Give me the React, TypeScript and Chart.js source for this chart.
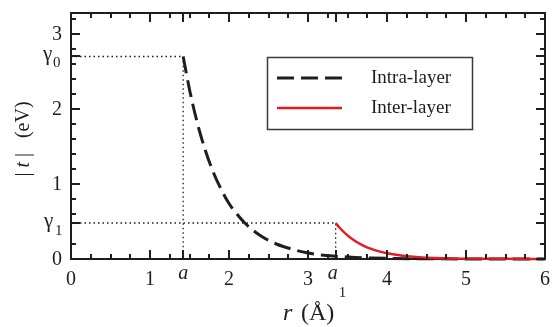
import { useEffect, useRef } from "react";
import { Chart, registerables } from "chart.js";

Chart.register(...registerables);

// Hopping magnitude |t| (eV) against separation r (Å)
const intraR = [1.42, 1.5, 1.6, 1.7, 1.8, 1.9, 2.0, 2.1, 2.2, 2.4, 2.6, 2.8, 3.0, 3.2, 3.4, 3.6, 3.8, 4.0, 4.5, 5.0, 5.5, 6.0];
const intraT = [2.7, 2.26, 1.81, 1.45, 1.16, 0.93, 0.74, 0.6, 0.48, 0.31, 0.2, 0.13, 0.08, 0.05, 0.033, 0.021, 0.014, 0.009, 0.003, 0.001, 0.0, 0.0];
const interR = [3.35, 3.4, 3.5, 3.6, 3.7, 3.8, 3.9, 4.0, 4.2, 4.4, 4.6, 4.8, 5.0, 5.5, 6.0];
const interT = [0.48, 0.417, 0.315, 0.237, 0.179, 0.135, 0.102, 0.077, 0.044, 0.025, 0.014, 0.008, 0.005, 0.002, 0.001];

// Reference distances and hopping values
const A = 1.42;
const A1 = 3.35;
const GAMMA0 = 2.7;
const GAMMA1 = 0.48;

const xMajor = [0, 1, 2, 3, 4, 5, 6];
const xMinor = [0.25, 0.5, 0.75, 1.25, 1.5, 1.75, 2.25, 2.5, 2.75, 3.25, 3.5, 3.75, 4.25, 4.5, 4.75, 5.25, 5.5, 5.75];
const yMajor = [0, 1, 2, 3];
const yMinor = [0.2, 0.6, 0.8, 1.2, 1.4, 1.6, 1.8, 2.2, 2.4, 2.6, 2.8, 3.2];

const X_MAX = 6;
const Y_MAX = 3.28;

const SERIF = '"Liberation Serif", "Times New Roman", serif';
const font = (size: number, italic = false) => `${italic ? "italic " : ""}${size}px ${SERIF}`;
const INK = "#1e1e1e";
const RED = "#e31b23";

const decor = {
  id: "decor",
  beforeDatasetsDraw(chart: any) {
    const { ctx, chartArea: ca } = chart;
    ctx.save();
    ctx.strokeStyle = INK;
    ctx.lineWidth = 2;
    ctx.strokeRect(ca.left, ca.top, ca.right - ca.left, ca.bottom - ca.top);
    ctx.restore();
  },
  afterDatasetsDraw(chart: any) {
    const { ctx, chartArea: ca } = chart;
    const xs = chart.scales.x;
    const ys = chart.scales.y;
    ctx.save();
    ctx.strokeStyle = INK;
    ctx.lineWidth = 2;

    const xTick = (v: number, len: number) => {
      const px = Math.round(xs.getPixelForValue(v));
      ctx.beginPath();
      ctx.moveTo(px, ca.bottom);
      ctx.lineTo(px, ca.bottom - len);
      ctx.moveTo(px, ca.top);
      ctx.lineTo(px, ca.top + len);
      ctx.stroke();
    };
    const yTick = (v: number, len: number) => {
      const py = Math.round(ys.getPixelForValue(v));
      ctx.beginPath();
      ctx.moveTo(ca.left, py);
      ctx.lineTo(ca.left + len, py);
      ctx.moveTo(ca.right, py);
      ctx.lineTo(ca.right - len, py);
      ctx.stroke();
    };
    xMajor.forEach((v) => xTick(v, 9));
    xMinor.forEach((v) => xTick(v, 5));
    [A, A1].forEach((v) => xTick(v, 9));
    yMajor.forEach((v) => yTick(v, 9));
    yMinor.forEach((v) => yTick(v, 5));
    [GAMMA0, GAMMA1].forEach((v) => yTick(v, 9));

    ctx.fillStyle = INK;
    ctx.textBaseline = "alphabetic";

    // x tick labels
    ctx.font = font(20);
    ctx.textAlign = "center";
    xMajor.forEach((v) => ctx.fillText(String(v), xs.getPixelForValue(v), 285));
    ctx.font = font(20, true);
    ctx.fillText("a", xs.getPixelForValue(A), 279);
    const pa1 = xs.getPixelForValue(A1);
    ctx.fillText("a", pa1 - 3, 279);
    ctx.font = font(15);
    ctx.textAlign = "left";
    ctx.fillText("1", pa1 + 3, 297);

    // y tick labels
    ctx.font = font(20);
    ctx.textAlign = "right";
    ctx.textBaseline = "middle";
    yMajor.forEach((v) => ctx.fillText(String(v), 62, ys.getPixelForValue(v) + 1));
    ctx.textBaseline = "alphabetic";
    ctx.textAlign = "left";
    const g0 = ys.getPixelForValue(GAMMA0);
    const g1 = ys.getPixelForValue(GAMMA1);
    ctx.font = font(21);
    ctx.fillText("γ", 43, g0 + 3);
    ctx.fillText("γ", 44, g1 + 4);
    ctx.font = font(15);
    ctx.fillText("0", 53, g0 + 10);
    ctx.fillText("1", 55, g1 + 12);

    // axis titles
    ctx.font = font(24, true);
    ctx.fillText("r", 283, 320);
    ctx.font = font(24);
    ctx.fillText("(Å)", 301, 320);

    ctx.save();
    ctx.translate(29, 139);
    ctx.rotate(-Math.PI / 2);
    const runs: [string, string][] = [
      ["|", font(20)],
      [" ", font(20)],
      ["t", font(20, true)],
      [" ", font(20)],
      ["|", font(20)],
      ["   (eV)", font(20)],
    ];
    let total = 0;
    runs.forEach(([t, f]) => {
      ctx.font = f;
      total += ctx.measureText(t).width;
    });
    let cx = -total / 2;
    runs.forEach(([t, f]) => {
      ctx.font = f;
      ctx.fillText(t, cx, 0);
      cx += ctx.measureText(t).width;
    });
    ctx.restore();

    // legend
    const lx = 267;
    const ly = 57;
    ctx.fillStyle = "#ffffff";
    ctx.fillRect(lx, ly, 205, 72);
    ctx.strokeStyle = "#3a3a3a";
    ctx.lineWidth = 1.5;
    ctx.strokeRect(lx + 0.5, ly + 0.5, 205, 72);
    const items = chart.data.datasets.filter((d: any) => d.label);
    items.forEach((d: any, i: number) => {
      const y = 78 + i * 30;
      ctx.strokeStyle = d.borderColor;
      ctx.lineWidth = d.borderWidth;
      ctx.setLineDash(d.borderDash || []);
      ctx.beginPath();
      ctx.moveTo(277, y);
      ctx.lineTo(342, y);
      ctx.stroke();
      ctx.setLineDash([]);
      ctx.fillStyle = INK;
      ctx.font = font(19);
      ctx.fillText(d.label, 371, y + 5);
    });
    ctx.restore();
  },
};

const pts = (xs: number[], ys: number[]) => xs.map((x, i) => ({ x, y: ys[i] }));

export default function App() {
  const ref = useRef<HTMLCanvasElement>(null);

  useEffect(() => {
    if (!ref.current) return;
    const chart = new Chart(ref.current, {
      type: "scatter",
      data: {
        datasets: [
          {
            label: "Intra-layer",
            data: pts(intraR, intraT),
            showLine: true,
            borderColor: INK,
            borderWidth: 3,
            borderDash: [17, 7],
            pointRadius: 0,
            cubicInterpolationMode: "monotone",
            clip: 6,
            order: 1,
          },
          {
            label: "Inter-layer",
            data: pts(interR, interT),
            showLine: true,
            borderColor: RED,
            borderWidth: 2.5,
            pointRadius: 0,
            cubicInterpolationMode: "monotone",
            clip: 6,
            order: 0,
          },
          {
            label: "",
            data: [
              { x: 0, y: GAMMA0 },
              { x: A, y: GAMMA0 },
              { x: A, y: 0 },
            ],
            showLine: true,
            borderColor: INK,
            borderWidth: 1.3,
            borderDash: [1.5, 3],
            pointRadius: 0,
            order: 2,
          },
          {
            label: "",
            data: [
              { x: 0, y: GAMMA1 },
              { x: A1, y: GAMMA1 },
              { x: A1, y: 0 },
            ],
            showLine: true,
            borderColor: INK,
            borderWidth: 1.3,
            borderDash: [1.5, 3],
            pointRadius: 0,
            order: 3,
          },
        ],
      } as any,
      options: {
        animation: false,
        responsive: false,
        layout: { padding: { left: 71, right: 7, top: 13, bottom: 68 } },
        scales: {
          x: { type: "linear", min: 0, max: X_MAX, display: false },
          y: { type: "linear", min: 0, max: Y_MAX, display: false },
        },
        plugins: { legend: { display: false }, tooltip: { enabled: false } },
      },
      plugins: [decor],
    });
    return () => chart.destroy();
  }, []);

  return (
    <div style={{ position: "fixed", left: 0, top: 0, width: 552, height: 327, background: "#fff" }}>
      <canvas ref={ref} width={552} height={327} />
    </div>
  );
}
